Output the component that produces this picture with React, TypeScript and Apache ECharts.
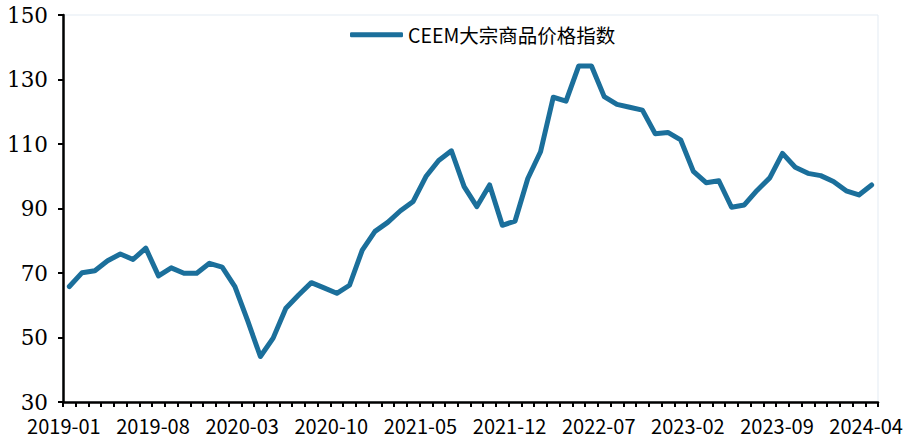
import React, { useEffect, useRef } from "react";
import * as echarts from "echarts";

const seriesName = "CEEM大宗商品价格指数";

function buildMonths(): string[] {
  const out: string[] = [];
  for (let y = 2019; y <= 2024; y++) {
    for (let m = 1; m <= 12; m++) {
      if (y === 2024 && m > 4) break;
      out.push(`${y}-${m < 10 ? "0" + m : m}`);
    }
  }
  return out;
}
const categories: string[] = buildMonths();

const values: number[] = [
  65.8, 70.1, 70.7, 73.8, 75.9, 74.2, 77.7, 69.1, 71.6, 69.9, 69.9, 73.0,
  71.8, 65.8, 55.2, 44.1, 49.8, 59.1, 63.2, 67.0, 65.4, 63.7, 66.2, 77.1,
  82.9, 85.7, 89.3, 92.2, 99.9, 104.9, 107.9, 96.8, 90.6, 97.3, 84.8, 86.1,
  99.3, 107.6, 124.5, 123.3, 134.2, 134.2, 124.7, 122.3, 121.4, 120.5, 113.2, 113.6,
  111.3, 101.5, 98.0, 98.6, 90.4, 91.1, 95.6, 99.5, 107.1, 102.8, 100.9, 100.2,
  98.4, 95.5, 94.2, 97.3,
];

const yMin = 30;
const yMax = 150;
const yStep = 20;

export default function App() {
  const ref = useRef<HTMLDivElement>(null);
  useEffect(() => {
    if (!ref.current) return;
    const chart = echarts.init(ref.current, undefined, { renderer: "svg" });
    const lineColor = "#1B6F9B";
    chart.setOption({
      animation: false,
      backgroundColor: "#ffffff",
      grid: {
        left: 63,
        right: 28,
        top: 15,
        bottom: 37,
        containLabel: false,
        outerBoundsMode: "none",
        show: true,
        borderColor: "#E3EBF3",
        borderWidth: 1,
        backgroundColor: "transparent",
      },
      legend: {
        show: true,
        left: 345,
        top: 20,
        itemWidth: 53,
        itemHeight: 5,
        icon: "roundRect",
        textStyle: {
          fontFamily: "Noto Sans CJK SC",
          fontSize: 19.5,
          color: "#000",
        },
        data: [{ name: seriesName, itemStyle: { color: lineColor } }],
      },
      xAxis: {
        type: "category",
        data: categories,
        boundaryGap: true,
        axisLine: { show: true, lineStyle: { color: "#000", width: 2.5 } },
        axisTick: {
          show: true,
          inside: false,
          length: 5,
          interval: 0,
          lineStyle: { color: "#000", width: 2 },
        },
        axisLabel: {
          interval: 6,
          margin: 15,
          fontFamily: "Noto Sans CJK SC",
          fontSize: 20,
          lineHeight: 16,
          color: "#000",
          padding: [0, 11, 0, 0],
          showMinLabel: true,
          showMaxLabel: true,
        },
        splitLine: { show: false },
      },
      yAxis: {
        type: "value",
        min: yMin,
        max: yMax,
        interval: yStep,
        axisLine: { show: true, lineStyle: { color: "#000", width: 2.5 } },
        axisTick: {
          show: true,
          inside: false,
          length: 5,
          lineStyle: { color: "#000", width: 2 },
        },
        axisLabel: {
          margin: 15,
          fontFamily: "DejaVu Serif",
          fontSize: 21.5,
          lineHeight: 16,
          color: "#000",
        },
        splitLine: { show: false },
      },
      series: [
        {
          name: seriesName,
          type: "line",
          data: values,
          showSymbol: false,
          symbol: "none",
          lineStyle: { color: lineColor, width: 5, cap: "round", join: "round" },
          itemStyle: { color: lineColor },
        },
      ],
    });
    return () => chart.dispose();
  }, []);
  return (
    <div
      ref={ref}
      style={{ position: "fixed", left: 0, top: 0, width: 906, height: 439 }}
    />
  );
}
